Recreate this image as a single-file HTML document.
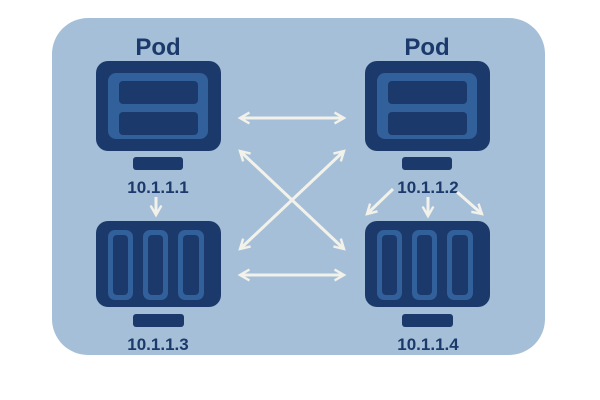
<!DOCTYPE html>
<html><head><style>
body{margin:0;background:#fff;}
svg{display:block;}
text{font-family:"Liberation Sans",sans-serif;font-weight:bold;fill:#1b3a6b;text-anchor:middle;}
</style></head><body>
<svg width="600" height="400" viewBox="0 0 600 400">
<defs>
<marker id="a" viewBox="0 0 10 10" refX="8" refY="5" markerWidth="4.5" markerHeight="4.5" orient="auto-start-reverse">
<path d="M1,1 L8,5 L1,9" fill="none" stroke="#f2f1ea" stroke-width="1.8"/>
</marker>
</defs>
<rect x="52" y="18" width="493" height="337" rx="36" fill="#a5bfd8"/>
<text x="158" y="55" font-size="24">Pod</text>
<text x="427" y="55" font-size="24">Pod</text>
<rect x="96" y="61" width="125" height="90" rx="12" fill="#1b3a6b"/>
<rect x="108" y="73" width="100" height="66" rx="8" fill="#31609a"/>
<rect x="119" y="81" width="79" height="23" rx="4" fill="#1b3a6b"/>
<rect x="119" y="112" width="79" height="23" rx="4" fill="#1b3a6b"/>
<rect x="133" y="157" width="50" height="13" rx="3" fill="#1b3a6b"/>
<text x="158" y="193" font-size="17">10.1.1.1</text>
<rect x="365" y="61" width="125" height="90" rx="12" fill="#1b3a6b"/>
<rect x="377" y="73" width="100" height="66" rx="8" fill="#31609a"/>
<rect x="388" y="81" width="79" height="23" rx="4" fill="#1b3a6b"/>
<rect x="388" y="112" width="79" height="23" rx="4" fill="#1b3a6b"/>
<rect x="402" y="157" width="50" height="13" rx="3" fill="#1b3a6b"/>
<text x="428" y="193" font-size="17">10.1.1.2</text>
<rect x="96" y="221" width="125" height="86" rx="12" fill="#1b3a6b"/>
<rect x="108" y="230" width="25" height="70" rx="7" fill="#31609a"/><rect x="113" y="235" width="15" height="60" rx="4" fill="#1b3a6b"/>
<rect x="143" y="230" width="25" height="70" rx="7" fill="#31609a"/><rect x="148" y="235" width="15" height="60" rx="4" fill="#1b3a6b"/>
<rect x="178" y="230" width="26" height="70" rx="7" fill="#31609a"/><rect x="183" y="235" width="16" height="60" rx="4" fill="#1b3a6b"/>
<rect x="133" y="314" width="51" height="13" rx="3" fill="#1b3a6b"/>
<text x="158" y="350" font-size="17">10.1.1.3</text>
<rect x="365" y="221" width="125" height="86" rx="12" fill="#1b3a6b"/>
<rect x="377" y="230" width="25" height="70" rx="7" fill="#31609a"/><rect x="382" y="235" width="15" height="60" rx="4" fill="#1b3a6b"/>
<rect x="412" y="230" width="25" height="70" rx="7" fill="#31609a"/><rect x="417" y="235" width="15" height="60" rx="4" fill="#1b3a6b"/>
<rect x="447" y="230" width="26" height="70" rx="7" fill="#31609a"/><rect x="452" y="235" width="16" height="60" rx="4" fill="#1b3a6b"/>
<rect x="402" y="314" width="51" height="13" rx="3" fill="#1b3a6b"/>
<text x="428" y="350" font-size="17">10.1.1.4</text>
<g stroke="#f2f1ea" stroke-width="3" fill="none">
<line x1="240" y1="118" x2="344" y2="118" marker-start="url(#a)" marker-end="url(#a)"/>
<line x1="240" y1="275" x2="344" y2="275" marker-start="url(#a)" marker-end="url(#a)"/>
<line x1="240" y1="151" x2="344" y2="249" marker-start="url(#a)" marker-end="url(#a)"/>
<line x1="344" y1="151" x2="240" y2="249" marker-start="url(#a)" marker-end="url(#a)"/>
<line x1="156" y1="197" x2="156" y2="215" marker-end="url(#a)"/>
<line x1="393" y1="189" x2="367" y2="214" marker-end="url(#a)"/>
<line x1="428" y1="197" x2="428" y2="216" marker-end="url(#a)"/>
<line x1="457" y1="192" x2="482" y2="214" marker-end="url(#a)"/>
</g>
</svg>
</body></html>
